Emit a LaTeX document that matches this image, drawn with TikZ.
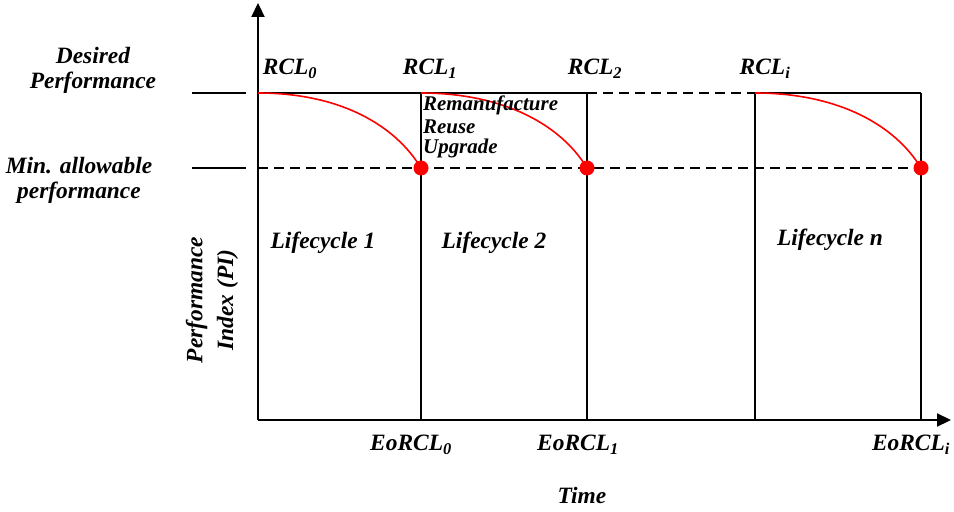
\documentclass[tikz,border=0pt]{standalone}
\usepackage{fontspec}
\setmainfont{Liberation Serif}
\usetikzlibrary{arrows.meta}
\begin{document}
\begin{tikzpicture}[x=1bp,y=-1bp,
  lbl/.style={font=\bfseries\itshape\fontsize{23.5}{25}\selectfont, inner sep=0pt},
  small/.style={font=\bfseries\itshape\fontsize{21}{22}\selectfont, inner sep=0pt},
  axis/.style={line width=2.2pt, -{Triangle[length=14bp,width=13bp]}},
  frame/.style={line width=2.2pt},
  dashline/.style={line width=2.2pt, dash pattern=on 10bp off 6bp},
  decay/.style={red, line width=1.6pt},
  eol/.style={circle, fill=red, inner sep=0pt, minimum size=15bp}
]
\useasboundingbox (0,0) rectangle (954,512);

% axes
\coordinate (O) at (258,420);
\coordinate (ytop) at (258,3);
\coordinate (xend) at (951,420);
\draw[axis] (O) -- (ytop);
\draw[axis] (O) -- (xend);

% reference points on the performance levels
\coordinate (d0) at (258,93);  \coordinate (m0) at (258,168);
\coordinate (d1) at (421,93);  \coordinate (m1) at (421,168);
\coordinate (d2) at (587,93);  \coordinate (m2) at (587,168);
\coordinate (di) at (755,93);  \coordinate (mi) at (755,168);
\coordinate (dn) at (921,93);  \coordinate (mn) at (921,168);
\coordinate (b1) at (421,420); \coordinate (b2) at (587,420);
\coordinate (bi) at (755,420); \coordinate (bn) at (921,420);

% level markers on the left
\coordinate (dl) at (192,93);  \coordinate (dr) at (246,93);
\coordinate (ml) at (192,168); \coordinate (mr) at (246,168);
\draw[frame] (dl) -- (dr);
\draw[frame] (ml) -- (mr);

% lifecycle frames
\draw[frame] (d0) -- (d2);
\draw[dashline] (d2) -- (di);
\draw[frame] (di) -- (dn);
\draw[dashline] (m0) -- (mn);
\draw[frame] (d1) -- (b1);
\draw[frame] (d2) -- (b2);
\draw[frame] (di) -- (bi);
\draw[frame] (dn) -- (bn);

% performance decay within each lifecycle
\draw[decay] (d0) .. controls (340,93) and (395,125) .. (m1);
\draw[decay] (d1) .. controls (504,93) and (561,125) .. (m2);
\draw[decay] (di) .. controls (838,93) and (895,125) .. (mn);
\node[eol] (e1) at (m1) {};
\node[eol] (e2) at (m2) {};
\node[eol] (en) at (mn) {};

% labels
\node[lbl, align=center] (desired) at (93,70) {Desired\\Performance};
\node[lbl, align=center] (minperf) at (79,180) {Min. allowable\\performance};
\node[lbl] (rcl0) at (290,69) {RCL\textsubscript{0}};
\node[lbl] (rcl1) at (430,69) {RCL\textsubscript{1}};
\node[lbl] (rcl2) at (595,69) {RCL\textsubscript{2}};
\node[lbl] (rcli) at (765,69) {RCL\textsubscript{i}};
\node[small, anchor=west] (reman) at (423,105) {Remanufacture};
\node[small, anchor=west] (reuse) at (423,127) {Reuse};
\node[small, anchor=west] (upgr) at (423,148) {Upgrade};
\node[lbl] (lc1) at (323,243) {Lifecycle 1};
\node[lbl] (lc2) at (494,243) {Lifecycle 2};
\node[lbl] (lcn) at (830,240) {Lifecycle n};
\node[lbl, rotate=90, align=center, font=\bfseries\itshape\fontsize{23.5}{31}\selectfont]
  (pi) at (212,300) {Performance\\Index (PI)};
\node[lbl] (eo0) at (411,445) {EoRCL\textsubscript{0}};
\node[lbl] (eo1) at (578,445) {EoRCL\textsubscript{1}};
\node[lbl] (eoi) at (911,445) {EoRCL\textsubscript{i}};
\node[lbl] (time) at (582,495) {Time};
\end{tikzpicture}
\end{document}
